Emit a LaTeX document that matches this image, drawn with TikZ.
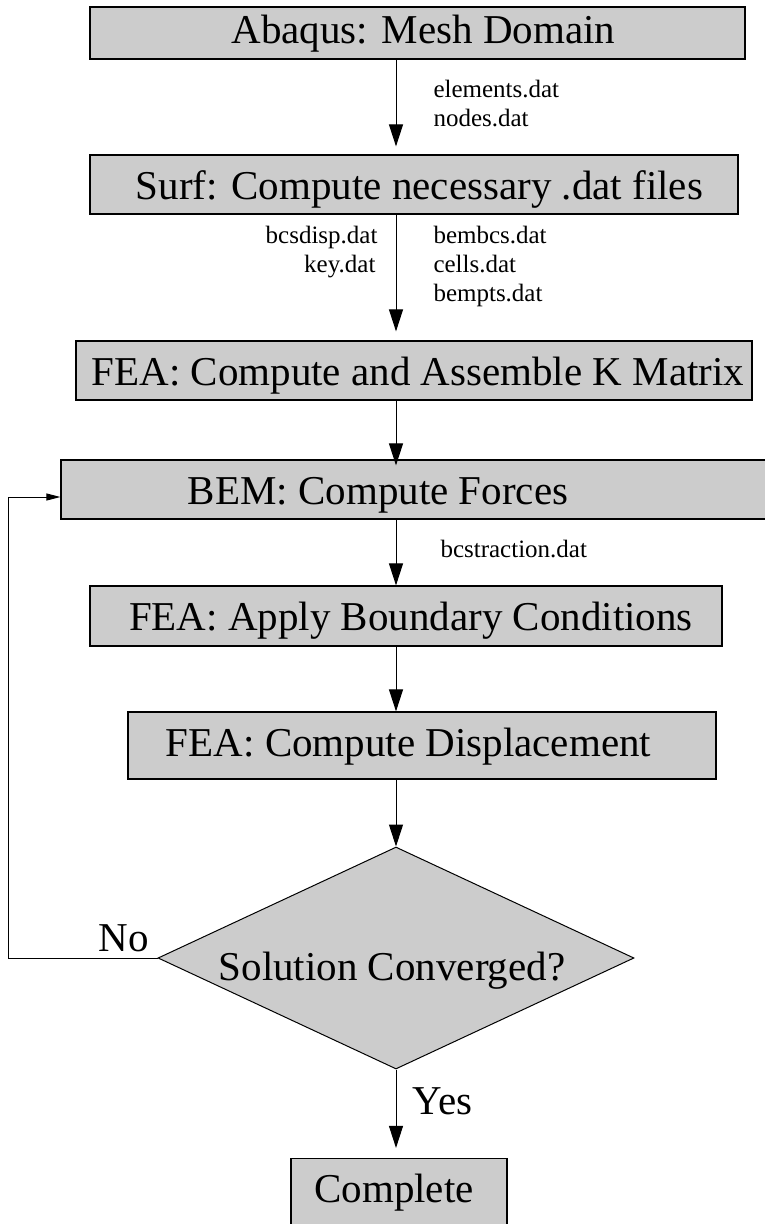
\documentclass[tikz,border=0pt]{standalone}
\usepackage{fontspec}
\setmainfont{Liberation Serif}
\usetikzlibrary{arrows.meta,shapes.geometric}
\definecolor{boxgray}{HTML}{CCCCCC}

\begin{document}
\begin{tikzpicture}[x=1pt, y=-1pt, line width=1pt,
  flowbox/.style={draw=black, fill=boxgray, line width=1.2pt, inner sep=0pt},
  decision/.style={diamond, draw=black, fill=boxgray, line width=1pt, inner sep=0pt},
  boxtext/.style={anchor=base, inner sep=0pt, font=\fontsize{41}{49}\selectfont},
  filetext/.style={inner sep=0pt, font=\fontsize{25}{30}\selectfont},
  flow/.style={-{Triangle[length=22pt,width=14pt]}},
  backflow/.style={-{Triangle[length=14pt,width=7pt]}}]

  % canvas
  \useasboundingbox (0,0) rectangle (765,1224);
  \clip (0,0) rectangle (765,1224);

  %% boxes
  \node[flowbox, minimum width=655pt, minimum height=52pt] (abaqus) at (417.5,33) {};
  \node[flowbox, minimum width=648pt, minimum height=59pt] (surf) at (414,184.5) {};
  \node[flowbox, minimum width=676pt, minimum height=59pt] (kmat) at (414,370.5) {};
  \node[flowbox, minimum width=769pt, minimum height=59pt] (bem) at (445.5,489.5) {};
  \node[flowbox, minimum width=632pt, minimum height=60pt] (bcs) at (406,616) {};
  \node[flowbox, minimum width=588pt, minimum height=67pt] (disp) at (422,745.5) {};
  \node[decision, minimum width=476pt, minimum height=222pt] (conv) at (396,958) {};
  \node[flowbox, minimum width=216pt, minimum height=67pt] (done) at (399,1192) {};

  %% box texts
  \node[boxtext] (abaqus-t) at (423.5,43.3) {Abaqus: Mesh Domain};
  \node[boxtext] (surf-t) at (419.5,199.3) {Surf: Compute necessary .dat files};
  \node[boxtext] (kmat-t) at (418,385) {FEA: Compute and Assemble K Matrix};
  \node[boxtext] (bem-t) at (378,504) {BEM: Compute Forces};
  \node[boxtext] (bcs-t) at (411,630) {FEA: Apply Boundary Conditions};
  \node[boxtext] (disp-t) at (408.5,756.7) {FEA: Compute Displacement};
  \node[boxtext] (conv-t) at (392,980) {Solution Converged?};
  \node[boxtext] (done-t) at (394,1202.5) {Complete};

  %% connectors
  \draw[flow, shorten >=8pt] (abaqus.south -| conv.north) -- (surf.north -| conv.north);
  \draw[flow, shorten >=9pt] (surf.south -| conv.north) -- (kmat.north -| conv.north);
  \draw[flow, shorten >=-6pt] (kmat.south -| conv.north) -- (bem.north -| conv.north);
  \draw[flow] (bem.south -| conv.north) -- (bcs.north -| conv.north);
  \draw[flow] (bcs.south -| conv.north) -- (disp.north -| conv.north);
  \draw[flow] (disp.south -| conv.north) -- (conv.north);
  \draw[flow, shorten >=10pt] (conv.south) -- (done.north -| conv.south);
  \draw[backflow] (conv.west) -- ++(-149,0) |- ([yshift=-7.5pt]bem.west);

  %% file names and answers
  \node[filetext, anchor=base west] (elements) at (433,97) {elements.dat};
  \node[filetext, anchor=base west] (nodesdat) at (433,126) {nodes.dat};
  \node[filetext, anchor=base east] (bcsdisp) at (378,243) {bcsdisp.dat};
  \node[filetext, anchor=base east] (keydat) at (376,272) {key.dat};
  \node[filetext, anchor=base west] (bembcs) at (433,243) {bembcs.dat};
  \node[filetext, anchor=base west] (cells) at (433,272) {cells.dat};
  \node[filetext, anchor=base west] (bempts) at (433,301) {bempts.dat};
  \node[filetext, anchor=base west] (traction) at (440,557) {bcstraction.dat};
  \node[boxtext] (no) at (123.5,951) {No};
  \node[boxtext] (yes) at (442.5,1114) {Yes};
\end{tikzpicture}
\end{document}
